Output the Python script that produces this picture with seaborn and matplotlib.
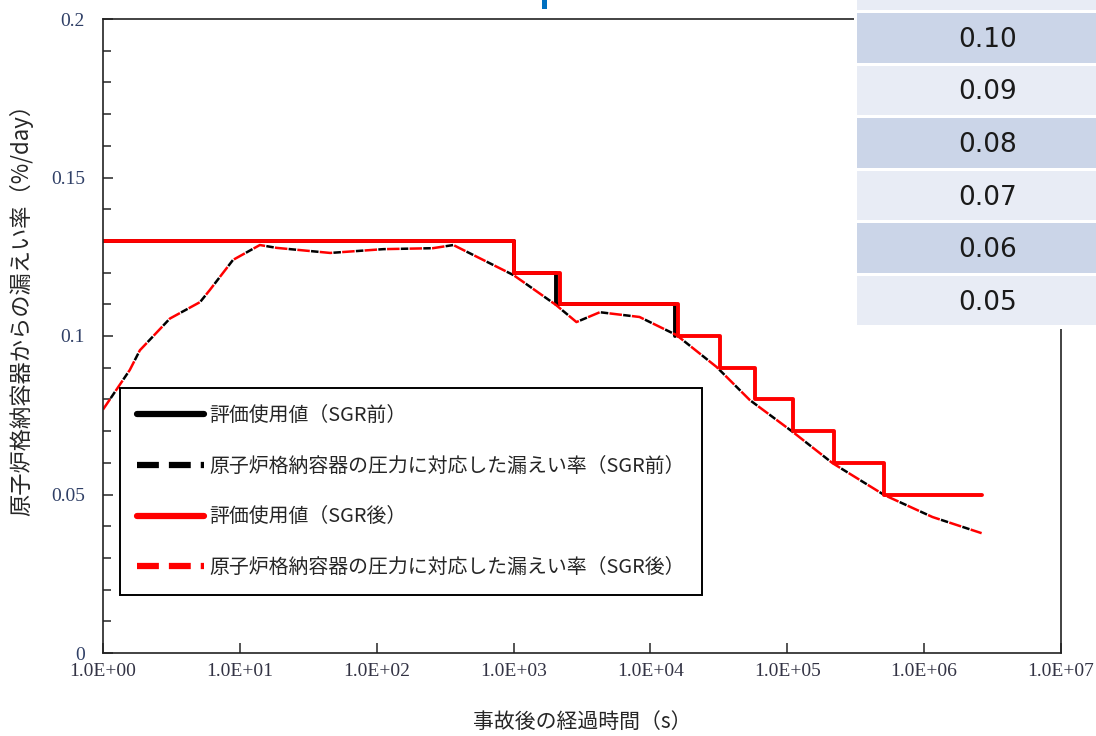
import numpy as np
import pandas as pd
import seaborn as sns
import matplotlib.pyplot as plt
from matplotlib.lines import Line2D
from matplotlib.patches import Rectangle
from matplotlib.ticker import FixedLocator, MultipleLocator, NullLocator

# --- data ---
# leak rate vs. containment pressure (same curve before / after SGR)
curve_time = [1.0, 1.57, 1.86, 3.08, 5.12, 6.03, 8.91, 14.0, 18.6, 45.7, 112, 257, 363,
              1000, 2040, 2880, 4270, 8320, 15500, 30500, 53200, 1.10e5, 2.14e5,
              5.13e5, 1.15e6, 2.63e6]
curve_rate = [0.0768, 0.0893, 0.0955, 0.1055, 0.1107, 0.1145, 0.1240, 0.1287, 0.1278,
              0.1262, 0.1274, 0.1277, 0.1287, 0.1192, 0.1098, 0.1044, 0.1075, 0.1060,
              0.1003, 0.0902, 0.0798, 0.0697, 0.0599, 0.0498, 0.0429, 0.0378]

# evaluation values (step functions)
pre_time = [1.0, 1000, 2040, 15100]
pre_rate = [0.13, 0.12, 0.11, 0.10]
post_time = [1.0, 1000, 2180, 16000, 32000, 58000, 1.10e5, 2.20e5, 5.10e5, 2.63e6]
post_rate = [0.13, 0.12, 0.11, 0.10, 0.09, 0.08, 0.07, 0.06, 0.05, 0.05]

labels = ['評価使用値（SGR前）',
          '原子炉格納容器の圧力に対応した漏えい率（SGR前）',
          '評価使用値（SGR後）',
          '原子炉格納容器の圧力に対応した漏えい率（SGR後）']

x_ticks = [1e0, 1e1, 1e2, 1e3, 1e4, 1e5, 1e6, 1e7]
x_ticklabels = ['1.0E+00', '1.0E+01', '1.0E+02', '1.0E+03', '1.0E+04',
                '1.0E+05', '1.0E+06', '1.0E+07']
y_ticks = [0, 0.05, 0.1, 0.15, 0.2]
y_ticklabels = ['0', '0.05', '0.1', '0.15', '0.2']

# table fragment on the right (overlapping slide element)
table_values = ['', '0.10', '0.09', '0.08', '0.07', '0.06', '0.05']

sns.set_theme(style='ticks')
plt.rcParams['font.family'] = ['Noto Sans CJK JP', 'DejaVu Sans']

W, H = 1096, 736
fig = plt.figure(figsize=(W / 100, H / 100), dpi=100)
ax = fig.add_axes([103 / W, 1 - 653 / H, (1061 - 103) / W, (653 - 19) / H])

curve = pd.DataFrame({'t': curve_time, 'rate': curve_rate})
pre = pd.DataFrame({'t': pre_time, 'rate': pre_rate})
post = pd.DataFrame({'t': post_time, 'rate': post_rate})

sns.lineplot(data=pre, x='t', y='rate', color='black', lw=2.8, estimator=None,
             drawstyle='steps-post', ax=ax)
sns.lineplot(data=curve, x='t', y='rate', color='black', lw=1.8, estimator=None,
             linestyle=(3.5, (3, 6)), ax=ax)
sns.lineplot(data=curve, x='t', y='rate', color='#ff0000', lw=1.8, estimator=None,
             linestyle=(0, (5, 4)), ax=ax)
sns.lineplot(data=post, x='t', y='rate', color='#ff0000', lw=2.8, estimator=None,
             drawstyle='steps-post', ax=ax)

ax.set_xscale('log')
ax.set_xlim(1, 1e7)
ax.set_ylim(0, 0.2)
ax.xaxis.set_major_locator(FixedLocator(x_ticks))
ax.xaxis.set_minor_locator(NullLocator())
ax.set_xticklabels(x_ticklabels, family='Liberation Serif', fontsize=14, color='#333344')
ax.set_yticks(y_ticks)
ax.set_yticklabels(y_ticklabels, family='Liberation Serif', fontsize=14, color='#2f3f66')
ax.yaxis.set_minor_locator(MultipleLocator(0.01))
ax.tick_params(axis='x', direction='in', length=7, width=1.1, pad=7, top=False)
ax.tick_params(axis='y', which='major', direction='in', length=7, width=1.1, pad=13, right=False)
ax.tick_params(axis='y', which='minor', direction='in', length=6, width=1.1, right=False)
for s in ax.spines.values():
    s.set_visible(True)
    s.set_linewidth(1.2)
    s.set_color('#222222')

ax.set_xlabel('事故後の経過時間（s）', fontsize=15)
ax.xaxis.set_label_coords(0.5, -(722 - 653) / 634)
ax.xaxis.label.set_va('center')
ax.set_ylabel('原子炉格納容器からの漏えい率（%/day）', fontsize=16)
ax.yaxis.set_label_coords(-0.073, 0.55)

handles = [Line2D([], [], color='black', lw=4.5),
           Line2D([], [], color='black', lw=4.5, linestyle=(0, (3.5, 1.6))),
           Line2D([], [], color='#ff0000', lw=4.5),
           Line2D([], [], color='#ff0000', lw=4.5, linestyle=(0, (3.5, 1.6)))]
leg = ax.legend(handles, labels, loc='upper left', bbox_to_anchor=(0.0177, 0.418),
                fontsize=14.3, handlelength=3.4, handletextpad=0.25, labelspacing=1.5,
                borderpad=0.85, borderaxespad=0, fancybox=False, framealpha=1)
leg.get_frame().set_edgecolor('black')
leg.get_frame().set_linewidth(1.4)

# table fragment drawn over the top-right corner (white backing, then cells)
pitch, cell_h = 52.6, 49.5
fig.patches.append(Rectangle((854 / W, 1 - 329 / H), (W - 854) / W, 329 / H,
                             transform=fig.transFigure, facecolor='white', edgecolor='none'))
for i, val in enumerate(table_values):
    top = -39.6 + pitch * i
    color = '#cbd5e8' if i % 2 == 1 else '#e8ecf5'
    fig.patches.append(Rectangle((857 / W, 1 - (top + cell_h) / H), (W - 857) / W, cell_h / H,
                                 transform=fig.transFigure, facecolor=color, edgecolor='none'))
    if val:
        fig.text(988 / W, 1 - (top + cell_h / 2 + 2) / H, val, ha='center', va='center',
                 fontsize=19, family='DejaVu Sans', color='#1a1a1a')

# small blue fragment at the top
fig.patches.append(Rectangle((542 / W, 1 - 9 / H), 5 / W, 9 / H, transform=fig.transFigure,
                             facecolor='#0070c0', edgecolor='none'))

fig.savefig('out.png', dpi=100)
